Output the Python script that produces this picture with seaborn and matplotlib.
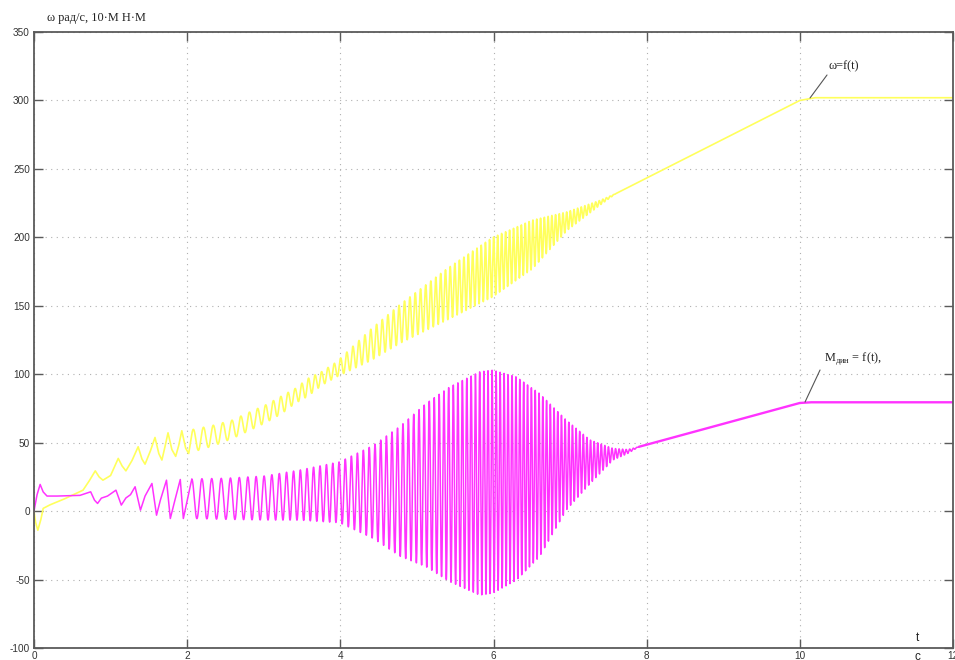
import numpy as np
import pandas as pd
import matplotlib
matplotlib.use("Agg")
import matplotlib.pyplot as plt
import seaborn as sns

# ---------------- data ----------------
# early (irregular) part, explicit points (t in s, value)
mag_early_t = [0.00, 0.04, 0.08, 0.12, 0.17, 0.30, 0.60, 0.68, 0.74, 0.79, 0.83, 0.88, 0.96,
               1.07, 1.14, 1.20, 1.26, 1.32, 1.39, 1.45, 1.54, 1.60, 1.65, 1.73, 1.78, 1.84,
               1.91, 1.95]
mag_early_v = [0.0, 12.0, 19.5, 14.0, 11.0, 11.0, 11.5, 13.0, 14.1, 8.0, 5.6, 9.5, 11.0,
               15.3, 4.4, 9.6, 12.0, 17.8, 0.7, 11.0, 20.2, -3.0, 8.0, 22.6, -5.4, 8.0,
               23.1, -5.4]

yel_early_t = [0.00, 0.02, 0.05, 0.09, 0.12, 0.21, 0.40, 0.64, 0.72, 0.80, 0.85, 0.90, 1.00,
               1.10, 1.15, 1.20, 1.28, 1.36, 1.41, 1.45, 1.52, 1.58, 1.63, 1.67, 1.71, 1.75,
               1.80, 1.85, 1.89, 1.93, 1.98, 2.02]
yel_early_v = [0.0, -8.0, -14.0, -6.0, 2.0, 4.6, 9.0, 15.3, 22.0, 29.4, 25.0, 22.6, 26.0,
               38.5, 33.0, 29.4, 37.0, 47.0, 38.0, 34.3, 44.0, 53.8, 42.0, 37.3, 47.0, 57.2,
               45.0, 40.0, 48.0, 58.7, 46.0, 42.1]

# oscillation frequency (Hz) read from peak spacing
freq_t = [2.06, 2.5, 3.0, 3.5, 4.0, 5.0, 6.0, 7.0, 8.0]
freq_hz = [7.4, 8.3, 9.7, 11.5, 12.3, 14.5, 19.0, 21.0, 22.0]

# magenta (M_dyn) envelope
mag_env_t = [2.06, 2.5, 3.0, 3.47, 3.99, 4.43, 4.78, 5.12, 5.43, 5.82, 5.99, 6.30, 6.60,
             6.95, 7.26, 7.56, 7.75, 7.90]
mag_up = [23.5, 24.0, 25.6, 30.0, 36.0, 48.0, 62.0, 78.7, 90.8, 101.8, 103.0, 98.0, 86.0,
          66.5, 52.0, 45.8, 45.0, 47.0]
mag_lo = [-5.4, -6.0, -6.5, -6.6, -8.5, -20.0, -33.0, -40.7, -51.6, -61.4, -60.0, -50.4,
          -33.4, 0.7, 20.0, 37.3, 42.0, 47.0]
mag_tail_t = [7.90, 10.0, 10.15, 12.0]
mag_tail_v = [47.0, 79.0, 79.5, 79.5]

# yellow (omega) envelope
yel_env_t = [2.06, 2.35, 2.59, 2.82, 3.04, 3.23, 3.41, 3.58, 3.76, 3.95, 4.4, 4.78, 5.39,
             5.99, 6.51, 6.96, 7.39, 7.60]
yel_up = [59.5, 62.8, 66.5, 72.5, 78.0, 84.0, 89.6, 97.0, 102.0, 109.0, 133.0, 151.0, 177.0,
          200.0, 212.6, 218.6, 227.0, 232.0]
yel_lo = [43.0, 47.8, 53.0, 59.0, 65.0, 71.0, 78.7, 84.0, 92.0, 98.0, 110.0, 122.6, 139.5,
          156.5, 177.0, 205.0, 223.5, 232.0]
yel_lag = 0.02
yel_tail_t = [10.0, 10.2, 12.0]
yel_tail_v = [300.0, 302.0, 302.0]

x_ticks = [0, 2, 4, 6, 8, 10, 12]
y_ticks = [-100, -50, 0, 50, 100, 150, 200, 250, 300, 350]

# ---------------- build the traces ----------------
dt = 0.0008
t_d = np.arange(mag_env_t[0], mag_env_t[-1] + dt / 2, dt)
f_d = np.interp(t_d, freq_t, freq_hz)
phase = 2 * np.pi * np.concatenate([[0.0], np.cumsum((f_d[:-1] + f_d[1:]) / 2 * dt)])

mc = (np.interp(t_d, mag_env_t, mag_up) + np.interp(t_d, mag_env_t, mag_lo)) / 2
ma = (np.interp(t_d, mag_env_t, mag_up) - np.interp(t_d, mag_env_t, mag_lo)) / 2
mag_d = mc + ma * np.cos(phase)

sel = t_d <= yel_env_t[-1]
ty = t_d[sel]
yc = (np.interp(ty, yel_env_t, yel_up) + np.interp(ty, yel_env_t, yel_lo)) / 2
ya = (np.interp(ty, yel_env_t, yel_up) - np.interp(ty, yel_env_t, yel_lo)) / 2
yel_d = yc + ya * np.cos(phase[sel] - 2 * np.pi * f_d[sel] * yel_lag)

mag_t = np.concatenate([mag_early_t, t_d])
mag_v = np.concatenate([mag_early_v, mag_d])
yel_t = np.concatenate([yel_early_t, ty, yel_tail_t])
yel_v = np.concatenate([yel_early_v, yel_d, yel_tail_v])

df_m = pd.DataFrame({"t": mag_t, "v": mag_v})
df_mt = pd.DataFrame({"t": mag_tail_t, "v": mag_tail_v})
df_y = pd.DataFrame({"t": yel_t, "v": yel_v})

# ---------------- draw ----------------
sns.set_theme(style="white")
plt.rcParams["font.family"] = ["Liberation Sans", "DejaVu Sans"]
plt.rcParams["axes.unicode_minus"] = False
plt.rcParams["mathtext.fontset"] = "custom"
plt.rcParams["mathtext.rm"] = "Liberation Serif"

fig = plt.figure(figsize=(9.55, 6.6), dpi=100)
ax = fig.add_axes([34 / 955, 12 / 660, 919 / 955, 616 / 660])

sns.lineplot(data=df_y, x="t", y="v", ax=ax, color="#ffff5c", linewidth=1.2,
             estimator=None, sort=False)
sns.lineplot(data=df_m, x="t", y="v", ax=ax, color="#ff33ff", linewidth=1.1,
             estimator=None, sort=False)
sns.lineplot(data=df_mt, x="t", y="v", ax=ax, color="#ff33ff", linewidth=1.7,
             estimator=None, sort=False)

ax.set_xlim(0, 12)
ax.set_ylim(-100, 350)
ax.set_xticks(x_ticks)
ax.set_yticks(y_ticks)
ax.set_xlabel("")
ax.set_ylabel("")

ax.grid(True, color="#b0b0b0", linewidth=0.8, linestyle=(0, (1, 4)))
for s in ax.spines.values():
    s.set_visible(True)
    s.set_color("#5a5a5a")
    s.set_linewidth(1.3)
ax.tick_params(axis="both", which="major", direction="in", length=6.5, width=1.0,
               color="#5a5a5a", labelsize=7.2, labelcolor="#333333",
               top=True, right=True, bottom=True, left=True)
ax.tick_params(axis="x", pad=2)
ax.tick_params(axis="y", pad=3)

serif = ["Liberation Serif", "DejaVu Serif"]
fig.text(47 / 955, 1 - 18 / 660, "ω рад/с, 10·М Н·М", family=serif, fontsize=8.8,
         ha="left", va="center", color="#222222")

ax.plot([10.133, 10.355], [301.8, 318.6], color="#555555", linewidth=0.8)
ax.text(10.368, 325.2, "ω=f(t)", family=serif, fontsize=8.8, ha="left", va="center",
        color="#222222")
ax.plot([10.068, 10.264], [79.7, 103.1], color="#555555", linewidth=0.8)
ax.text(10.316, 111.8, r"M$_{\mathrm{дин}}$ = f(t),", family=serif, fontsize=8.8,
        ha="left", va="center", color="#222222")

ax.text(11.53, -92.7, "t", fontsize=8.5, ha="center", va="center", color="#222222")
ax.text(11.53, -106.6, "с", fontsize=8.5, ha="center", va="center", color="#222222",
        clip_on=False)

fig.savefig("out.png", dpi=100)
